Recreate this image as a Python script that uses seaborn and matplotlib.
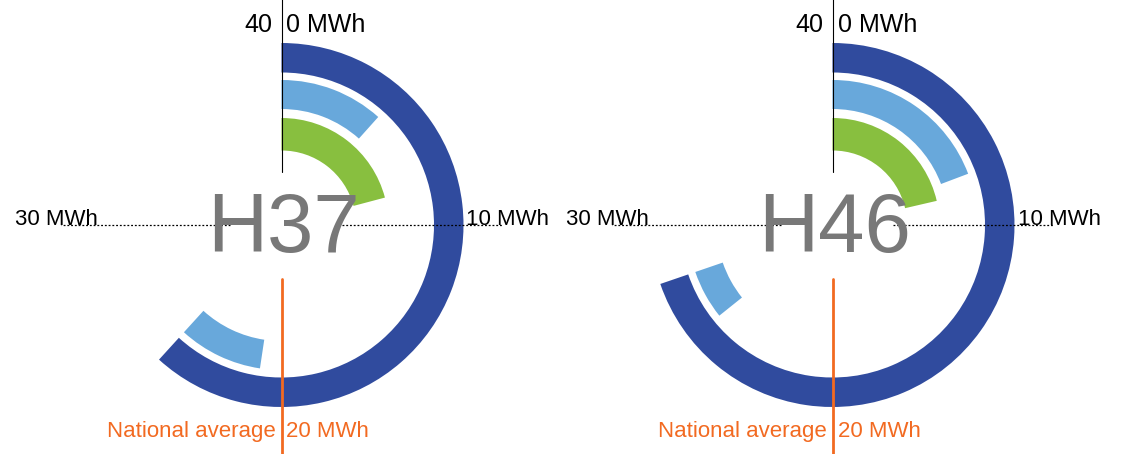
import numpy as np
import matplotlib
matplotlib.use('Agg')
import matplotlib.pyplot as plt
import seaborn as sns

# Values (MWh, full circle = 40 MWh)
meters = ['H37', 'H46']
total_mwh = [24.7, 27.9]          # dark blue ring
light_head_mwh = [4.65, 7.7]      # light blue ring, from 0
light_tail_from = [20.95, 25.7]   # light blue ring, second piece up to the total
green_mwh = [8.35, 8.55]          # green ring
national_avg = 20
full_scale = 40
axis_labels = ['0 MWh', '10 MWh', '20 MWh', '30 MWh', '40']

palette = dict(zip(['dark', 'light', 'green'], sns.color_palette(['#304b9e', '#68a8db', '#88bf3f'])))
orange = '#f26a21'

sns.set_style('white')
plt.rcParams['font.family'] = ['Liberation Sans', 'DejaVu Sans']

W, H = 1127, 454
fig = plt.figure(figsize=(W / 100, H / 100), dpi=100)

centers = [(281.5, 225), (832.5, 225)]
R = 240  # axes radius in pixels, 1 data unit = 1 px
rings = {'dark': (152.5, 182), 'light': (116, 145), 'green': (74.5, 107)}


def ang(v):
    return v / full_scale * 2 * np.pi


for i, name in enumerate(meters):
    cx, cy = centers[i]
    ax = fig.add_axes([(cx - R) / W, (H - cy - R) / H, 2 * R / W, 2 * R / H], projection='polar')
    ax.set_theta_zero_location('N')
    ax.set_theta_direction(-1)
    ax.set_ylim(0, R)
    ax.set_axis_off()

    def arc(v0, v1, ring):
        r0, r1 = rings[ring]
        ax.bar(ang(v0), r1 - r0, width=ang(v1) - ang(v0), bottom=r0, align='edge',
               color=palette[ring], linewidth=0)

    arc(0, total_mwh[i], 'dark')
    arc(0, light_head_mwh[i], 'light')
    arc(light_tail_from[i], total_mwh[i], 'light')
    arc(0, green_mwh[i], 'green')

    # guide lines
    ax.plot([0, 0], [53, 226], color='black', lw=0.8, clip_on=False)
    ax.plot([ang(10), ang(10)], [60, 220], color='black', lw=0.9, ls=(0, (1.5, 1.5)), clip_on=False)
    ax.plot([ang(30), ang(30)], [52, 221], color='black', lw=0.9, ls=(0, (1.5, 1.5)), clip_on=False)
    ax.plot([ang(national_avg)] * 2, [54, 232], color=orange, lw=2, clip_on=False)

    # scale labels
    ax.annotate(axis_labels[4], xy=(0, 193.3), xytext=(-9, 0), textcoords='offset pixels',
                ha='right', va='baseline', fontsize=18, color='black')
    ax.annotate(axis_labels[0], xy=(0, 193.3), xytext=(5, 0), textcoords='offset pixels',
                ha='left', va='baseline', fontsize=18, color='black')
    ax.annotate(axis_labels[1], xy=(ang(10), 185), xytext=(0, 0), textcoords='offset pixels',
                ha='left', va='baseline', fontsize=16, color='black')
    ax.annotate(axis_labels[3], xy=(ang(30), 184), xytext=(0, 0), textcoords='offset pixels',
                ha='right', va='baseline', fontsize=16, color='black')
    ax.annotate('National average', xy=(ang(national_avg), 211.7), xytext=(-6, 0),
                textcoords='offset pixels', ha='right', va='baseline', fontsize=16, color=orange)
    ax.annotate(axis_labels[2], xy=(ang(national_avg), 211.7), xytext=(5, 0),
                textcoords='offset pixels', ha='left', va='baseline', fontsize=16, color=orange)

    # meter name
    ax.annotate(name, xy=(ang(national_avg), 26.7), xytext=(2, 0), textcoords='offset pixels',
                ha='center', va='baseline', fontsize=60, color='#787878')

fig.savefig('out.png', dpi=100)
